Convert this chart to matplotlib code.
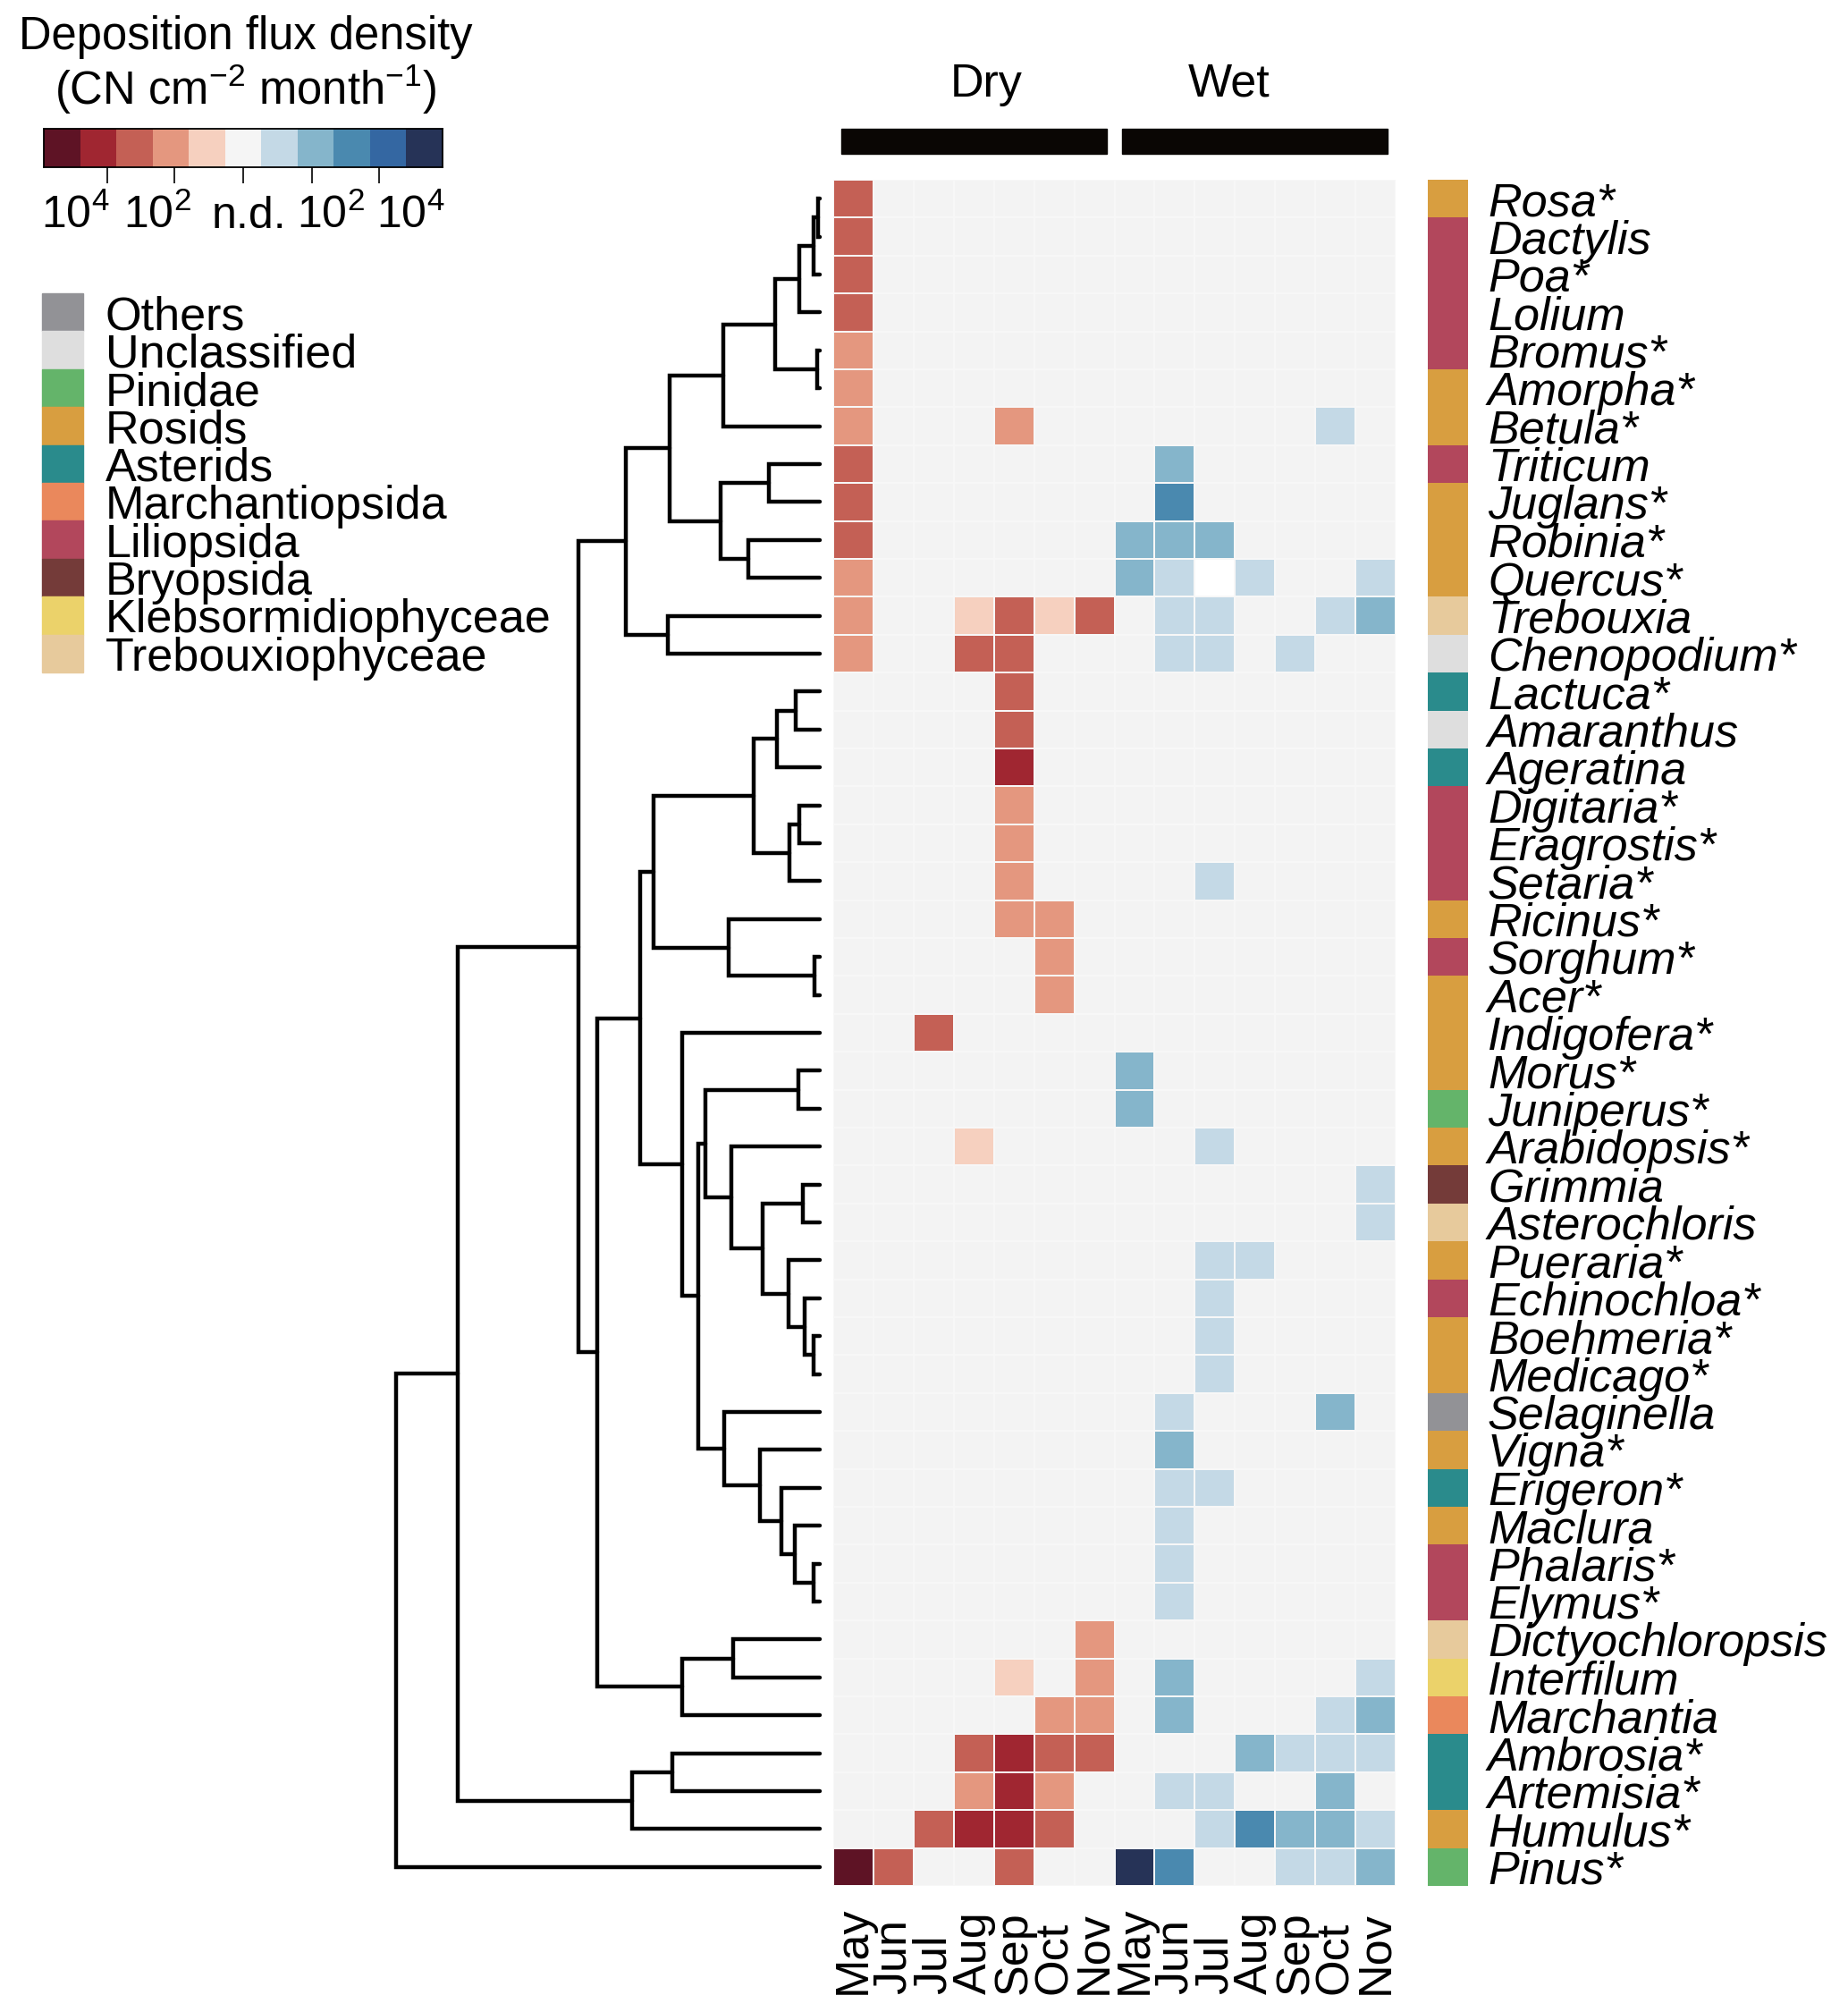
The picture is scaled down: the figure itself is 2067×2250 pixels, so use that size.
import numpy as np
import matplotlib
matplotlib.use('Agg')
import matplotlib.pyplot as plt
from matplotlib.colors import ListedColormap, BoundaryNorm
from matplotlib.patches import Rectangle
from matplotlib.transforms import blended_transform_factory as blend

plt.rcParams['font.family'] = ['Liberation Sans', 'DejaVu Sans']
plt.rcParams['mathtext.fontset'] = 'custom'
plt.rcParams['mathtext.rm'] = 'Liberation Sans'
plt.rcParams['mathtext.it'] = 'Liberation Sans:italic'

W, H = 2067, 2250

################# Daten #################
genera = ['Rosa*', 'Dactylis', 'Poa*', 'Lolium', 'Bromus*', 'Amorpha*', 'Betula*',
          'Triticum', 'Juglans*', 'Robinia*', 'Quercus*', 'Trebouxia', 'Chenopodium*',
          'Lactuca*', 'Amaranthus', 'Ageratina', 'Digitaria*', 'Eragrostis*', 'Setaria*',
          'Ricinus*', 'Sorghum*', 'Acer*', 'Indigofera*', 'Morus*', 'Juniperus*',
          'Arabidopsis*', 'Grimmia', 'Asterochloris', 'Pueraria*', 'Echinochloa*',
          'Boehmeria*', 'Medicago*', 'Selaginella', 'Vigna*', 'Erigeron*', 'Maclura',
          'Phalaris*', 'Elymus*', 'Dictyochloropsis', 'Interfilum', 'Marchantia',
          'Ambrosia*', 'Artemisia*', 'Humulus*', 'Pinus*']

class_names = ['Others', 'Unclassified', 'Pinidae', 'Rosids', 'Asterids',
               'Marchantiopsida', 'Liliopsida', 'Bryopsida', 'Klebsormidiophyceae',
               'Trebouxiophyceae']
class_colors = ['#929296', '#DEDEDE', '#64B46A', '#D89E40', '#2A8B8C',
                '#EA885C', '#B2475C', '#743B39', '#EBD26A', '#E7CA9C']

genus_class = ['Rosids', 'Liliopsida', 'Liliopsida', 'Liliopsida', 'Liliopsida', 'Rosids',
               'Rosids', 'Liliopsida', 'Rosids', 'Rosids', 'Rosids', 'Trebouxiophyceae',
               'Unclassified', 'Asterids', 'Unclassified', 'Asterids', 'Liliopsida',
               'Liliopsida', 'Liliopsida', 'Rosids', 'Liliopsida', 'Rosids', 'Rosids',
               'Rosids', 'Pinidae', 'Rosids', 'Bryopsida', 'Trebouxiophyceae', 'Rosids',
               'Liliopsida', 'Rosids', 'Rosids', 'Others', 'Rosids', 'Asterids', 'Rosids',
               'Liliopsida', 'Liliopsida', 'Trebouxiophyceae', 'Klebsormidiophyceae',
               'Marchantiopsida', 'Asterids', 'Asterids', 'Rosids', 'Pinidae']

months = ['May', 'Jun', 'Jul', 'Aug', 'Sep', 'Oct', 'Nov']
seasons = ['Dry', 'Wet']

# Stufe 0 = n.d., 1..5 = Flussklasse, -1 = gemessen aber 0 (weiss)
#              Dry: May Jun Jul Aug Sep Oct Nov | Wet: May Jun Jul Aug Sep Oct Nov
flux_level = [
    [3, 0, 0, 0, 0, 0, 0, 0, 0, 0, 0, 0, 0, 0],
    [3, 0, 0, 0, 0, 0, 0, 0, 0, 0, 0, 0, 0, 0],
    [3, 0, 0, 0, 0, 0, 0, 0, 0, 0, 0, 0, 0, 0],
    [3, 0, 0, 0, 0, 0, 0, 0, 0, 0, 0, 0, 0, 0],
    [2, 0, 0, 0, 0, 0, 0, 0, 0, 0, 0, 0, 0, 0],
    [2, 0, 0, 0, 0, 0, 0, 0, 0, 0, 0, 0, 0, 0],
    [2, 0, 0, 0, 2, 0, 0, 0, 0, 0, 0, 0, 1, 0],
    [3, 0, 0, 0, 0, 0, 0, 0, 2, 0, 0, 0, 0, 0],
    [3, 0, 0, 0, 0, 0, 0, 0, 3, 0, 0, 0, 0, 0],
    [3, 0, 0, 0, 0, 0, 0, 2, 2, 2, 0, 0, 0, 0],
    [2, 0, 0, 0, 0, 0, 0, 2, 1, -1, 1, 0, 0, 1],
    [2, 0, 0, 1, 3, 1, 3, 0, 1, 1, 0, 0, 1, 2],
    [2, 0, 0, 3, 3, 0, 0, 0, 1, 1, 0, 1, 0, 0],
    [0, 0, 0, 0, 3, 0, 0, 0, 0, 0, 0, 0, 0, 0],
    [0, 0, 0, 0, 3, 0, 0, 0, 0, 0, 0, 0, 0, 0],
    [0, 0, 0, 0, 4, 0, 0, 0, 0, 0, 0, 0, 0, 0],
    [0, 0, 0, 0, 2, 0, 0, 0, 0, 0, 0, 0, 0, 0],
    [0, 0, 0, 0, 2, 0, 0, 0, 0, 0, 0, 0, 0, 0],
    [0, 0, 0, 0, 2, 0, 0, 0, 0, 1, 0, 0, 0, 0],
    [0, 0, 0, 0, 2, 2, 0, 0, 0, 0, 0, 0, 0, 0],
    [0, 0, 0, 0, 0, 2, 0, 0, 0, 0, 0, 0, 0, 0],
    [0, 0, 0, 0, 0, 2, 0, 0, 0, 0, 0, 0, 0, 0],
    [0, 0, 3, 0, 0, 0, 0, 0, 0, 0, 0, 0, 0, 0],
    [0, 0, 0, 0, 0, 0, 0, 2, 0, 0, 0, 0, 0, 0],
    [0, 0, 0, 0, 0, 0, 0, 2, 0, 0, 0, 0, 0, 0],
    [0, 0, 0, 1, 0, 0, 0, 0, 0, 1, 0, 0, 0, 0],
    [0, 0, 0, 0, 0, 0, 0, 0, 0, 0, 0, 0, 0, 1],
    [0, 0, 0, 0, 0, 0, 0, 0, 0, 0, 0, 0, 0, 1],
    [0, 0, 0, 0, 0, 0, 0, 0, 0, 1, 1, 0, 0, 0],
    [0, 0, 0, 0, 0, 0, 0, 0, 0, 1, 0, 0, 0, 0],
    [0, 0, 0, 0, 0, 0, 0, 0, 0, 1, 0, 0, 0, 0],
    [0, 0, 0, 0, 0, 0, 0, 0, 0, 1, 0, 0, 0, 0],
    [0, 0, 0, 0, 0, 0, 0, 0, 1, 0, 0, 0, 2, 0],
    [0, 0, 0, 0, 0, 0, 0, 0, 2, 0, 0, 0, 0, 0],
    [0, 0, 0, 0, 0, 0, 0, 0, 1, 1, 0, 0, 0, 0],
    [0, 0, 0, 0, 0, 0, 0, 0, 1, 0, 0, 0, 0, 0],
    [0, 0, 0, 0, 0, 0, 0, 0, 1, 0, 0, 0, 0, 0],
    [0, 0, 0, 0, 0, 0, 0, 0, 1, 0, 0, 0, 0, 0],
    [0, 0, 0, 0, 0, 0, 2, 0, 0, 0, 0, 0, 0, 0],
    [0, 0, 0, 0, 1, 0, 2, 0, 2, 0, 0, 0, 0, 1],
    [0, 0, 0, 0, 0, 2, 2, 0, 2, 0, 0, 0, 1, 2],
    [0, 0, 0, 3, 4, 3, 3, 0, 0, 0, 2, 1, 1, 1],
    [0, 0, 0, 2, 4, 2, 0, 0, 1, 1, 0, 0, 2, 0],
    [0, 0, 3, 4, 4, 3, 0, 0, 0, 1, 3, 2, 2, 1],
    [5, 3, 0, 0, 3, 0, 0, 5, 3, 0, 0, 1, 1, 2],
]

red_levels = ['#F6D0BF', '#E4977F', '#C46055', '#A02631', '#5E1325']
blue_levels = ['#C4D9E6', '#85B5CB', '#4A89AF', '#3467A2', '#263357']
nd_color = '#F3F3F3'

# Dendrogramm (wie scipy linkage): Index >= 45 verweist auf fruehere Fusion
merges = [
    (0, 1, 1.5), (45, 2, 7.3), (46, 3, 23.3), (4, 5, 3.3), (47, 48, 50),
    (49, 6, 108), (7, 8, 57), (9, 10, 80), (51, 52, 111), (50, 53, 168),
    (11, 12, 170), (54, 55, 217), (13, 14, 27.3), (57, 15, 48.3), (16, 17, 22.7),
    (59, 18, 34), (58, 60, 74), (20, 21, 6), (19, 62, 101.7), (61, 63, 186),
    (23, 24, 24), (26, 27, 19.3), (30, 31, 6.7), (29, 67, 16.7), (28, 68, 35),
    (66, 69, 64.3), (25, 70, 98.3), (65, 71, 127.7), (36, 37, 6.7), (35, 73, 28.3),
    (34, 74, 43.3), (33, 75, 66.7), (32, 76, 106.7), (72, 77, 135.7), (22, 78, 153.3),
    (64, 79, 201), (38, 39, 96.7), (81, 40, 153.3), (80, 82, 248.3), (56, 83, 269),
    (41, 42, 165), (85, 43, 210), (84, 86, 404), (87, 44, 473),
]

cbar_ticks = [-3.75, -1.9, 0, 1.9, 3.75]
cbar_label_pos = [-4.64, -2.37, 0.17, 2.42, 4.61]
cbar_labels = ['$10^4$', '$10^2$', 'n.d.', '$10^2$', '$10^4$']
season_label_col = [3.8, 9.85]


def px_axes(fig, x0, y0, x1, y1):
    # Pixelkoordinaten (von oben) -> Figure-Bruchteile
    return fig.add_axes([x0 / W, 1 - y1 / H, (x1 - x0) / W, (y1 - y0) / H])


def fy(y):
    return 1 - y / H


def main():
    fig = plt.figure(figsize=(W / 100, H / 100), dpi=100)
    n_rows = len(genera)
    n_cols = 2 * len(months)
    lab_size = 37.5

    # Heatmap
    ax_hm = px_axes(fig, 932, 201, 1561, 2109)
    lev = np.array(flux_level)
    sign = np.repeat([-1, 1], len(months))
    code = lev * sign + 5
    code[lev < 0] = 11
    cmap = ListedColormap(red_levels[::-1] + [nd_color] + blue_levels + ['#FFFFFF'])
    norm = BoundaryNorm(np.arange(-0.5, 12.5, 1), cmap.N)
    ax_hm.pcolormesh(np.arange(n_cols + 1), np.arange(n_rows + 1), code, cmap=cmap,
                     norm=norm, edgecolors='#F7F7F7', linewidth=0.25)
    ax_hm.set_xlim(0, n_cols)
    ax_hm.set_ylim(n_rows, 0)
    ax_hm.axis('off')

    tr = blend(ax_hm.transData, fig.transFigure)
    for j, m in enumerate(months * 2):
        ax_hm.text(j + 0.5, fy(2230), m, rotation=90, ha='center', va='bottom',
                   fontsize=lab_size, transform=tr)

    # Dry / Wet Balken
    pad = 0.2
    for g, s in enumerate(seasons):
        x0 = g * len(months) + pad
        ax_hm.add_patch(Rectangle((x0, fy(172)), len(months) - 2 * pad, 28 / H,
                                  transform=tr, color='#0A0604', clip_on=False))
        ax_hm.text(season_label_col[g], fy(108), s, ha='center', va='baseline',
                   fontsize=lab_size, transform=tr)

    # Dendrogramm
    ax_d = px_axes(fig, 443, 201, 917, 2109)
    node_y = [i + 0.5 for i in range(n_rows)]
    node_h = [0.0] * n_rows
    for a, b, h in merges:
        ya, yb = node_y[a], node_y[b]
        ax_d.plot([node_h[a], h, h, node_h[b]], [ya, ya, yb, yb], color='black',
                  lw=3.2, solid_capstyle='round', solid_joinstyle='miter', clip_on=False)
        node_y.append((ya + yb) / 2)
        node_h.append(h)
    ax_d.set_xlim(merges[-1][2], 0)
    ax_d.set_ylim(n_rows, 0)
    ax_d.axis('off')

    # Klassen-Streifen + Gattungsnamen
    ax_s = px_axes(fig, 1597, 201, 1642, 2109)
    cls_idx = np.array([[class_names.index(c)] for c in genus_class])
    ax_s.pcolormesh([0, 1], np.arange(n_rows + 1), cls_idx,
                    cmap=ListedColormap(class_colors),
                    norm=BoundaryNorm(np.arange(-0.5, len(class_names) + 0.5, 1), len(class_names)))
    ax_s.set_xlim(0, 1)
    ax_s.set_ylim(n_rows, 0)
    ax_s.axis('off')
    tr_s = blend(fig.transFigure, ax_s.transData)
    for i, g in enumerate(genera):
        ax_s.text(1664 / W, i + 0.5, g, style='italic', fontsize=lab_size,
                  va='center_baseline', ha='left', transform=tr_s)

    # Legende Klassen
    for k, (name, col) in enumerate(zip(class_names, class_colors)):
        y0 = 328 + k * 42.4
        fig.patches.append(Rectangle((47 / W, fy(y0 + 42.4)), 46 / W, 42.4 / H,
                                     transform=fig.transFigure, color=col))
        fig.text(118 / W, fy(y0 + 21.2), name, fontsize=lab_size, va='center_baseline')

    # Farbskala
    ax_c = px_axes(fig, 49, 144, 495, 187)
    cb_vals = np.arange(-5, 6)
    cmap_c = ListedColormap(red_levels[::-1] + ['#F5F5F5'] + blue_levels)
    ax_c.pcolormesh(np.arange(-5.5, 6.5, 1), [0, 1], cb_vals[None, :], cmap=cmap_c,
                    norm=BoundaryNorm(np.arange(-5.5, 6.5, 1), 11))
    ax_c.set_xlim(-5.5, 5.5)
    ax_c.set_ylim(0, 1)
    ax_c.set_yticks([])
    ax_c.set_xticks(cbar_ticks)
    ax_c.set_xticklabels([''] * len(cbar_ticks))
    ax_c.tick_params(axis='x', length=13, width=1.2, direction='out')
    for sp in ax_c.spines.values():
        sp.set_linewidth(1.3)
    tr_c = blend(ax_c.transData, fig.transFigure)
    for x, l in zip(cbar_label_pos, cbar_labels):
        ax_c.text(x, fy(255), l, ha='center', va='baseline', fontsize=36, transform=tr_c)

    fig.text(275 / W, fy(55), 'Deposition flux density', ha='center', va='baseline', fontsize=36.5)
    fig.text(275 / W, fy(117), '(CN cm$^{-2}$ month$^{-1}$)', ha='center', va='baseline',
             fontsize=36.5)

    fig.savefig('out.png', dpi=100)


if __name__ == '__main__':
    main()
